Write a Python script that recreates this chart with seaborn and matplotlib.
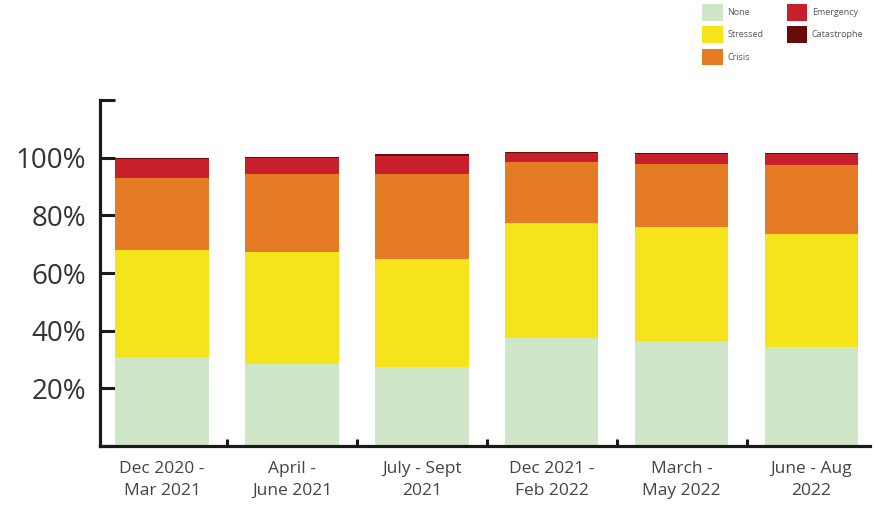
import matplotlib
matplotlib.use("Agg")
import matplotlib.pyplot as plt
import seaborn as sns
import pandas as pd
import numpy as np
from matplotlib.patches import Patch

periods = ["Dec 2020 -\nMar 2021", "April -\nJune 2021", "July - Sept\n2021",
           "Dec 2021 -\nFeb 2022", "March -\nMay 2022", "June - Aug\n2022"]
none_ = [31.0, 28.5, 27.5, 37.5, 36.5, 34.5]
stressed = [37.0, 39.0, 37.5, 40.0, 39.5, 39.0]
crisis = [25.0, 27.0, 29.5, 21.0, 22.0, 24.0]
emergency = [6.5, 5.5, 6.3, 3.2, 3.3, 4.0]
catastrophe = [0.5, 0.3, 0.4, 0.3, 0.3, 0.3]

phases = ["None", "Stressed", "Crisis", "Emergency", "Catastrophe"]
colors = {"None": "#cfe6c8", "Stressed": "#f5e41c", "Crisis": "#e57b25",
          "Emergency": "#c8202a", "Catastrophe": "#6a0b0b"}

df = pd.DataFrame({"period": periods, "None": none_, "Stressed": stressed,
                   "Crisis": crisis, "Emergency": emergency,
                   "Catastrophe": catastrophe})
cum = df[phases].cumsum(axis=1)

sns.set_style("white")
plt.rcParams["font.family"] = ["Open Sans", "DejaVu Sans"]

fig = plt.figure(figsize=(8.76, 5.16), dpi=100)
ax = fig.add_axes([0.114, 0.1357, 0.879, 0.670])

for ph in reversed(phases):
    sns.barplot(x=df["period"], y=cum[ph], color=colors[ph], width=0.72,
                saturation=1, ax=ax, linewidth=0)

ax.set_ylim(0, 120)
ax.set_xlim(-0.48, 5.45)
ax.set_xlabel("")
ax.set_ylabel("")

ax.spines["top"].set_visible(False)
ax.spines["right"].set_visible(False)
for s in ["left", "bottom"]:
    ax.spines[s].set_linewidth(2.3)
    ax.spines[s].set_color("#1a1a1a")
    ax.spines[s].set_capstyle("projecting")

ax.set_yticks([0, 20, 40, 60, 80, 100, 120])
ax.set_yticklabels(["", "20%", "40%", "60%", "80%", "100%", ""])
ax.tick_params(axis="y", direction="in", length=11, width=2.2, color="#1a1a1a",
               labelsize=20, labelcolor="#333333", pad=10, left=True)

ax.set_xticks(range(len(periods)))
ax.set_xticklabels(periods, linespacing=1.45)
ax.tick_params(axis="x", length=0, labelsize=12.5, labelcolor="#444444", pad=11)
ax.set_xticks([0.5, 1.5, 2.5, 3.5, 4.5], minor=True)
ax.tick_params(axis="x", which="minor", direction="in", length=5, width=2.2,
               color="#1a1a1a", bottom=True)

handles = [Patch(facecolor=colors[p], edgecolor="none") for p in phases]
fig.legend(handles, phases, ncol=2, loc="upper left",
           bbox_to_anchor=(0.792, 1.008), frameon=False, fontsize=6.5,
           handlelength=2.3, handleheight=2.5, handletextpad=0.5,
           columnspacing=2.6, labelspacing=0.6, labelcolor="#555555")

fig.savefig("out.png", dpi=100)
